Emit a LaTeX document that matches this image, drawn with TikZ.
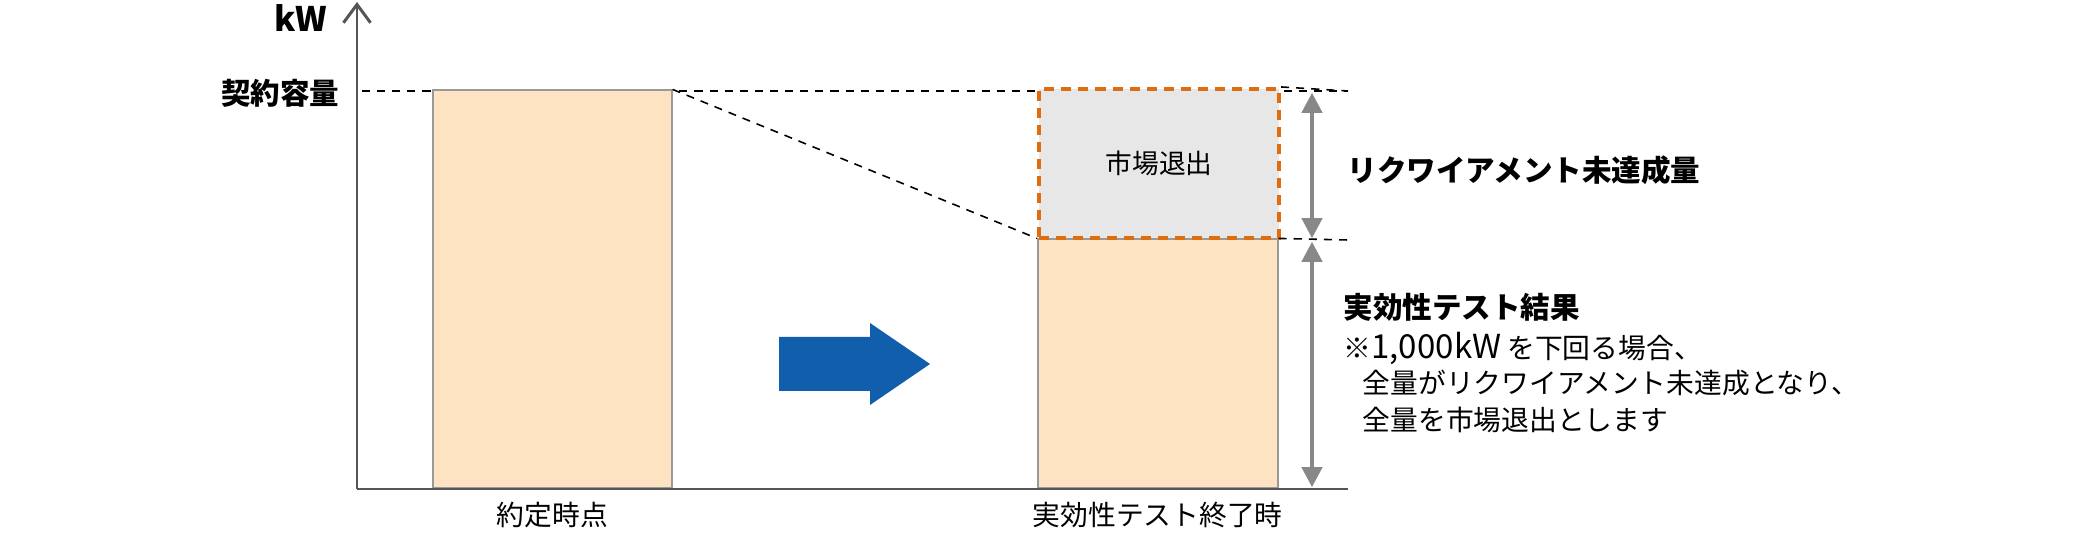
\documentclass[tikz,border=0pt]{standalone}
\usepackage{fontspec}
\setmainfont{Noto Sans CJK JP}
\usepackage{xcolor}
\usepackage{tikz}
\usetikzlibrary{positioning,arrows.meta,calc}
\definecolor{AxisGray}{HTML}{555555}
\definecolor{BarPeach}{HTML}{FDE3C2}
\definecolor{BarEdge}{HTML}{999999}
\definecolor{ExitGray}{HTML}{E6E7E6}
\definecolor{ExitOrange}{HTML}{E06C10}
\definecolor{DimGray}{HTML}{888888}
\definecolor{ArrowBlue}{HTML}{115EAD}

\begin{document}
\begin{tikzpicture}[every node/.style={font=\fontsize{7.9pt}{10pt}\selectfont, inner sep=0pt},
          bar/.style={draw=BarEdge, fill=BarPeach, line width=0.45pt, anchor=south west},
          guide/.style={black, line width=0.45pt, dash pattern=on 2.3pt off 2pt},
          dim/.style={{Triangle[width=5.7pt,length=5.7pt]}-{Triangle[width=5.7pt,length=5.7pt]},
            DimGray, line width=1.15pt, shorten <=0.5pt, shorten >=0.5pt},
          bold/.style={font=\fontsize{8.4pt}{10pt}\selectfont\bfseries}]
        \useasboundingbox (0,0) rectangle (20.8,5.4);
        % axes
        \coordinate (o) at (3.57,0.51);
        \coordinate (ytop) at (3.57,5.38);
        \coordinate (xend) at (13.48,0.51);
        % guide lines
        \draw[guide] (3.62,4.49) -- (13.48,4.49);
        % bars
        \node[bar, minimum width=2.39cm, minimum height=3.98cm] (b1) at (4.32,0.51) {};
        \node[bar, minimum width=2.40cm, minimum height=2.49cm] (b2) at (10.37,0.51) {};
        \node[draw=ExitOrange, fill=ExitGray, line width=1.15pt,
          dash pattern=on 2.85pt off 2pt, minimum width=2.40cm, minimum height=1.49cm,
          anchor=south west] (ex) at (10.37,3.00) {};
        \node at (ex.center) {\fontsize{7.6pt}{10pt}\selectfont 市場退出};
        \draw[guide] (b1.north east) -- (b2.north west);
        \draw[guide] (ex.north east) -- (13.48,4.49);
        \draw[guide] (b2.north east) -- (13.48,3.00);
        \draw[AxisGray, line width=0.85pt, -{Straight Barb[length=5.2pt,width=7.7pt]}] (o) -- (ytop);
        \draw[AxisGray, line width=0.85pt] (o) -- (xend);
        % dimension arrows
        \coordinate (d1) at (13.12,4.49);
        \coordinate (d2) at (13.12,3.00);
        \coordinate (d3) at (13.12,0.51);
        \draw[dim] (d1) -- (d2);
        \draw[dim] (d2) -- (d3);
        % labels
        \node[font=\fontsize{9.6pt}{10pt}\selectfont\bfseries, anchor=east] (kw) at (3.28,5.22) {kW};
        \node[bold, anchor=east] (cap) at (3.40,4.47) {契約容量};
        \node[bold, anchor=west] (req) at (13.47,3.70) {リクワイアメント未達成量};
        \node[bold, anchor=west] (res) at (13.43,2.33) {実効性テスト結果};
        \node[anchor=west] (n1) at (13.43,1.92) {※{\fontsize{9.4pt}{10pt}\selectfont 1,000kW} を下回る場合、};
        \node[anchor=west] (n2) at (13.62,1.57) {全量がリクワイアメント未達成となり、};
        \node[anchor=west] (n3) at (13.62,1.20) {全量を市場退出とします};
        \node (t1) at (b1.south |- 0,0.25) {約定時点};
        \node (t2) at (b2.south |- 0,0.25) {実効性テスト終了時};
        % blue arrow
        \fill[ArrowBlue] (7.79,1.49) -- (7.79,2.03) -- (8.70,2.03) -- (8.70,2.17)
          -- (9.30,1.76) -- (8.70,1.35) -- (8.70,1.49) -- cycle;
      \end{tikzpicture}
\end{document}
